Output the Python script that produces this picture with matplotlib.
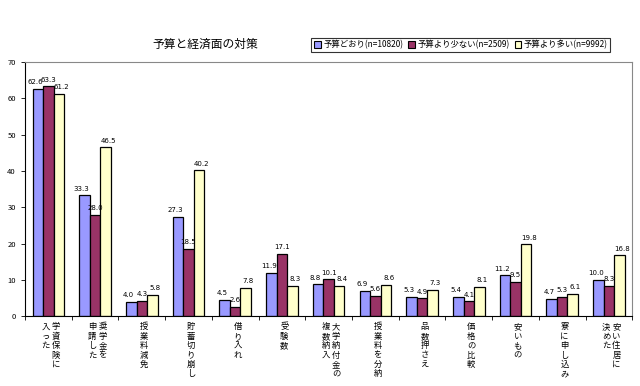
import numpy as np
import matplotlib
matplotlib.use('Agg')
import matplotlib.pyplot as plt
from matplotlib.patches import Patch
import matplotlib.transforms as mtransforms

plt.rcParams['font.family'] = ['Noto Sans CJK JP', 'DejaVu Sans']

# categories: each is a list of columns (right column first, as in vertical writing)
categories = [
    ['学資保険に', '入った'],
    ['奨学金を', '申請した'],
    ['授業料減免'],
    ['貯蓄切り崩し'],
    ['借り入れ'],
    ['受験数'],
    ['大学納付金の', '複数納入'],
    ['授業料を分納'],
    ['品数押さえ'],
    ['価格の比較'],
    ['安いもの'],
    ['寮に申し込み'],
    ['安い住居に', '決めた'],
]
series_names = ['予算どおり(n=10820)', '予算より少ない(n=2509)', '予算より多い(n=9992)']
as_budget = [62.6, 33.3, 4.0, 27.3, 4.5, 11.9, 8.8, 6.9, 5.3, 5.4, 11.2, 4.7, 10.0]
less_budget = [63.3, 28.0, 4.3, 18.5, 2.6, 17.1, 10.1, 5.6, 4.9, 4.1, 9.5, 5.3, 8.3]
more_budget = [61.2, 46.5, 5.8, 40.2, 7.8, 8.3, 8.4, 8.6, 7.3, 8.1, 19.8, 6.1, 16.8]
colors = ['#9999ff', '#993366', '#ffffcc']

fig = plt.figure(figsize=(6.4, 3.86), dpi=100)
ax = fig.add_axes([0.039, 0.181, 0.949, 0.658])

x = np.arange(len(categories))
w = 0.225
for k, (vals, c) in enumerate(zip([as_budget, less_budget, more_budget], colors)):
    pos = x + (k - 1) * w
    ax.bar(pos, vals, w, color=c, edgecolor='black', linewidth=0.9)
    for px, v in zip(pos, vals):
        ax.text(px + (k - 1) * 0.06, v + 1.0, f'{v:.1f}', ha='center', va='bottom',
                fontsize=5.0, family='DejaVu Sans')

ax.set_xlim(-0.5, len(categories) - 0.5)
ax.set_ylim(0, 70)
ax.set_yticks(range(0, 71, 10))
ax.tick_params(axis='y', labelsize=5.5, length=3, width=0.6)
ax.set_xticks(np.arange(-0.5, len(categories), 1.0))
ax.set_xticklabels([])
ax.tick_params(axis='x', length=3, width=0.6)
for side in ['top', 'right']:
    ax.spines[side].set_color('#888888')
    ax.spines[side].set_linewidth(0.8)
ax.spines['left'].set_linewidth(0.8)
ax.spines['bottom'].set_linewidth(0.8)

# vertical category labels
trans = mtransforms.blended_transform_factory(ax.transData, ax.transAxes)
for i, cols in enumerate(categories):
    n = len(cols)
    for j, col in enumerate(cols):
        off = (n - 1) / 2 * 0.22 - j * 0.22
        ax.text(i + 0.05 + off, -0.025, '\n'.join(col), transform=trans,
                ha='center', va='top', fontsize=6.0, linespacing=1.05)

fig.text(0.32, 0.885, '予算と経済面の対策', ha='center', va='center', fontsize=8.5)

handles = [Patch(facecolor=c, edgecolor='black', linewidth=0.8) for c in colors]
leg = fig.legend(handles, series_names, loc='center', bbox_to_anchor=(0.72, 0.884),
                 ncol=3, fontsize=6.0, frameon=True, fancybox=False,
                 handlelength=0.8, handleheight=0.8, handletextpad=0.3,
                 columnspacing=0.6, borderpad=0.3)
leg.get_frame().set_edgecolor('black')
leg.get_frame().set_linewidth(0.8)

fig.savefig('out.png', dpi=100)
